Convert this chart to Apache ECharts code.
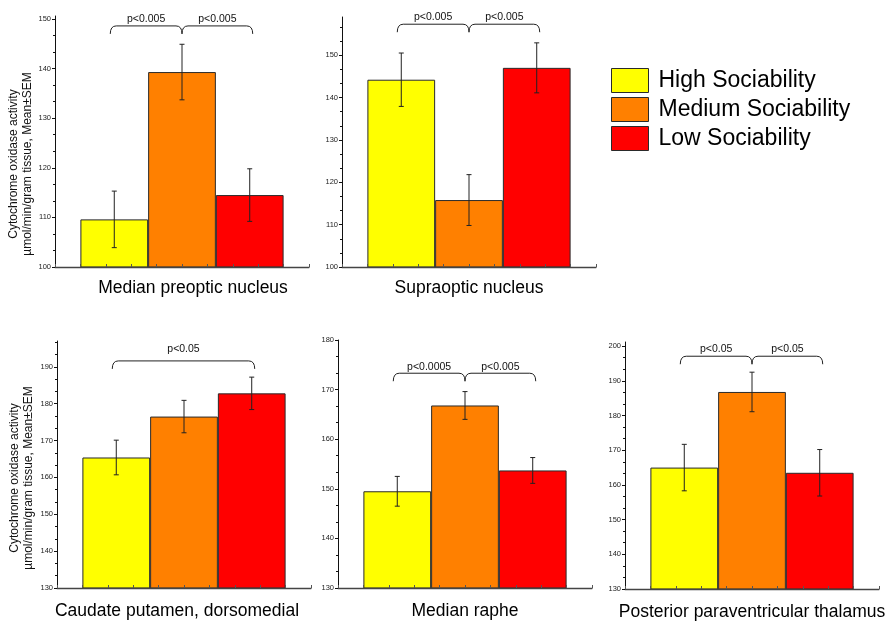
<!DOCTYPE html>
<html>
<head>
<meta charset="utf-8">
<script src="https://cdn.jsdelivr.net/npm/echarts@6/dist/echarts.min.js"></script>
<style>
html,body{margin:0;padding:0;background:#fff;}
#chart{width:893px;height:622px;}
</style>
</head>
<body>
<div id="chart"></div>
<script>
// ---- data ----
const groups = ['High Sociability', 'Medium Sociability', 'Low Sociability'];
const regions = ['Median preoptic nucleus', 'Supraoptic nucleus', 'Caudate putamen, dorsomedial', 'Median raphe', 'Posterior paraventricular thalamus'];
const highMean   = [109.6, 144.2, 165.4, 149.5, 165.0];
const mediumMean = [139.3, 115.8, 176.5, 166.8, 186.8];
const lowMean    = [114.5, 147.0, 182.8, 153.7, 163.5];
const highSem    = [5.7, 6.3, 4.7, 3.0, 6.7];
const mediumSem  = [5.6, 6.0, 4.4, 2.8, 5.7];
const lowSem     = [5.3, 5.9, 4.4, 2.6, 6.7];
const yMin  = [100, 100, 130, 130, 130];
const yMax  = [150.6, 159, 197, 180, 201.2];
const yStep = [10, 10, 10, 10, 10];
const comparisons = [
  [[0, 1, 'p<0.005'], [1, 2, 'p<0.005']],
  [[0, 1, 'p<0.005'], [1, 2, 'p<0.005']],
  [[0, 2, 'p<0.05']],
  [[0, 1, 'p<0.0005'], [1, 2, 'p<0.005']],
  [[0, 1, 'p<0.05'], [1, 2, 'p<0.05']]
];
const bracketLevel = [148.6, 157.3, 191.6, 173.3, 197.1];
const yAxisTitle = 'Cytochrome oxidase activity\nµmol/min/gram tissue, Mean±SEM';

// ---- layout / style ----
const FONT = 'Liberation Sans, Arial, sans-serif';
const colors = ['#FFFF00', '#FF8000', '#FF0000'];
const panels = [
  {left: 55,  top: 16,  height: 251, namePad: [0, 0, 0, 22], pGap: 7},
  {left: 342, top: 17,  height: 250, namePad: [0, 0, 0, 0],  pGap: 7},
  {left: 57,  top: 341, height: 247, namePad: [0, 14, 0, 0], pGap: 12},
  {left: 338, top: 340, height: 248, namePad: [0, 0, 0, 0],  pGap: 6},
  {left: 625, top: 342, height: 247, namePad: [0, 0, 0, 0],  pGap: 7}
];
const PW = 254;
const means = [highMean, mediumMean, lowMean];
const sems = [highSem, mediumSem, lowSem];

function majors(p) {
  const out = [];
  for (let v = yMin[p]; v <= yMax[p] + 1e-9; v += yStep[p]) out.push(+v.toFixed(6));
  return out;
}
function minors(p) {
  const out = [];
  const s = yStep[p] / 3;
  for (let k = 0; yMin[p] + k * s <= yMax[p] + 1e-9; k++) {
    if (k % 3 !== 0) out.push(yMin[p] + k * s);
  }
  return out;
}

const grid = [], xAxis = [], yAxis = [], series = [];
panels.forEach((pl, p) => {
  grid.push({left: pl.left, top: pl.top, width: PW, height: pl.height, containLabel: false});
  xAxis.push({
    type: 'value', gridIndex: p, min: -0.875, max: 2.875, interval: 0.375, z: 5, position: 'bottom',
    axisLine: {show: true, onZero: false, lineStyle: {color: '#444', width: 1.3}},
    axisTick: {show: true, inside: true, length: 3, lineStyle: {color: '#555'}},
    axisLabel: {show: false}, splitLine: {show: false},
    name: regions[p], nameLocation: 'middle', nameGap: p < 2 ? 12 : 14,
    nameTextStyle: {fontFamily: FONT, fontSize: 17.5, color: '#000', padding: pl.namePad}
  });
  yAxis.push({
    type: 'value', gridIndex: p, min: yMin[p], max: yMax[p], z: 5, position: 'left', offset: 0,
    axisLine: {show: true, onZero: false, lineStyle: {color: '#111', width: 1}},
    axisTick: {show: true, length: 3, customValues: majors(p), lineStyle: {color: '#111'}},
    axisLabel: {show: true, customValues: majors(p), fontFamily: FONT, fontSize: 7.5, color: '#222', margin: 4},
    splitLine: {show: false}
  });
  yAxis.push({
    type: 'value', gridIndex: p, min: yMin[p], max: yMax[p], z: 5, position: 'left', offset: 0,
    axisLine: {show: false, onZero: false},
    axisTick: {show: true, length: 2, customValues: minors(p), lineStyle: {color: '#111'}},
    axisLabel: {show: false}, splitLine: {show: false}
  });
  groups.forEach((g, i) => {
    series.push({
      type: 'bar', name: g, xAxisIndex: p, yAxisIndex: 2 * p,
      barWidth: '100%', barGap: '-100%',
      itemStyle: {color: colors[i], borderColor: '#2a2a2a', borderWidth: 1},
      data: [[i, means[i][p]]],
      z: 2
    });
  });
  series.push({
    type: 'custom', xAxisIndex: p, yAxisIndex: 2 * p, z: 4, silent: true,
    encode: {x: 0, y: 1},
    data: groups.map((g, i) => [i, means[i][p], sems[i][p]]),
    renderItem: (params, api) => {
      const x = api.value(0), m = api.value(1), s = api.value(2);
      const t = api.coord([x, m + s]), b = api.coord([x, m - s]);
      const c = 2.5, st = {stroke: '#222', lineWidth: 1};
      return {type: 'group', children: [
        {type: 'line', shape: {x1: t[0], y1: t[1], x2: b[0], y2: b[1]}, style: st},
        {type: 'line', shape: {x1: t[0] - c, y1: t[1], x2: t[0] + c, y2: t[1]}, style: st},
        {type: 'line', shape: {x1: b[0] - c, y1: b[1], x2: b[0] + c, y2: b[1]}, style: st}
      ]};
    }
  });
  series.push({
    type: 'custom', xAxisIndex: p, yAxisIndex: 2 * p, z: 4, silent: true,
    encode: {x: [0, 1], y: 2},
    data: comparisons[p].map(c => [c[0], c[1], bracketLevel[p]]),
    renderItem: (params, api) => {
      const a = api.coord([api.value(0), api.value(2)]);
      const b = api.coord([api.value(1), api.value(2)]);
      const lbl = comparisons[p][params.dataIndex][2];
      const xa = a[0] - (api.value(0) === 0 ? 4 : 0);
      const xb = b[0] + (api.value(1) === 2 ? 3 : 0);
      const y0 = a[1], d = 8, r = 6;
      const path = `M${xa},${y0 + d} Q${xa},${y0} ${xa + r},${y0} L${xb - r},${y0} Q${xb},${y0} ${xb},${y0 + d}`;
      return {type: 'group', children: [
        {type: 'path', shape: {pathData: path}, style: {stroke: '#222', lineWidth: 1, fill: null}},
        {type: 'text', x: (xa + xb) / 2, y: y0 - panels[p].pGap,
         style: {text: lbl, fontFamily: FONT, fontSize: 10.5, fill: '#111', align: 'center', verticalAlign: 'middle'}}
      ]};
    }
  });
});

const chart = echarts.init(document.getElementById('chart'), null, {renderer: 'canvas'});
chart.setOption({
  animation: false,
  backgroundColor: '#fff',
  grid, xAxis, yAxis, series,
  legend: {
    data: groups, orient: 'vertical', left: 611, top: 68, padding: 0,
    itemWidth: 37, itemHeight: 24, itemGap: 4, icon: 'rect',
    itemStyle: {borderColor: '#2a2a2a', borderWidth: 1},
    textStyle: {fontFamily: FONT, fontSize: 23, color: '#000', padding: [0, 0, 0, 5]}
  },
  graphic: [
    {type: 'text', x: 20.5, y: 164, rotation: Math.PI / 2,
     style: {text: yAxisTitle, fontFamily: FONT, fontSize: 12, lineHeight: 14, fill: '#111', align: 'center', verticalAlign: 'middle'}},
    {type: 'text', x: 22, y: 478, rotation: Math.PI / 2,
     style: {text: yAxisTitle, fontFamily: FONT, fontSize: 12, lineHeight: 14, fill: '#111', align: 'center', verticalAlign: 'middle'}}
  ]
});
</script>
</body>
</html>
